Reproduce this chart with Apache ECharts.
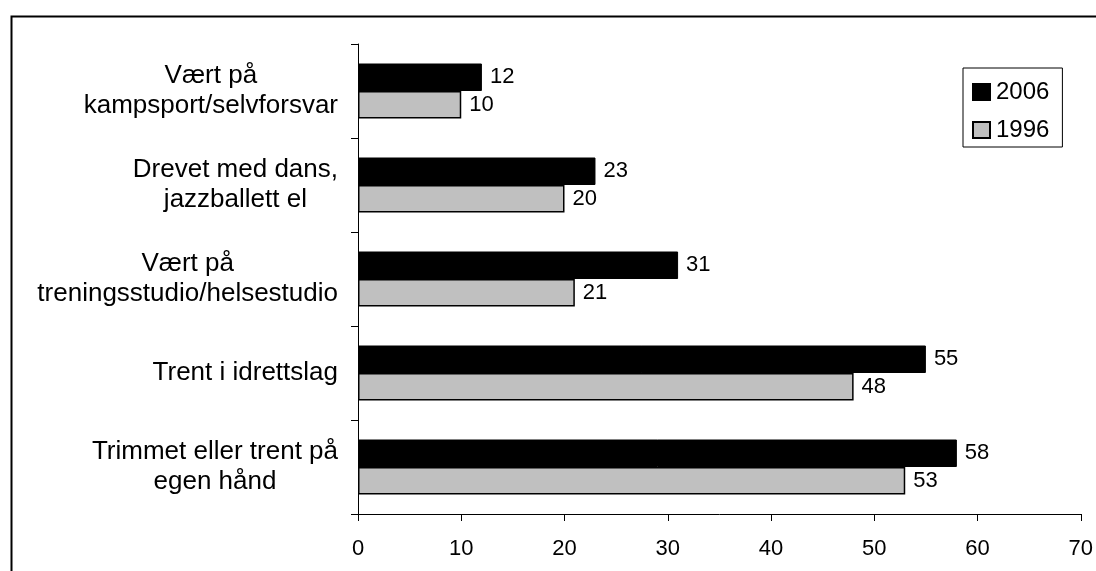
<!DOCTYPE html>
<html>
<head>
<meta charset="utf-8">
<script src="https://cdn.jsdelivr.net/npm/echarts@6/dist/echarts.min.js"></script>
<style>
  html, body { margin: 0; padding: 0; background: #fff; }
  #chart { width: 1096px; height: 571px; }
</style>
</head>
<body>
<div id="chart"></div>
<script>
// Activities, listed top to bottom
var categories = [
  'Vært på\nkampsport/selvforsvar',
  'Drevet med dans,\njazzballett el',
  'Vært på\ntreningsstudio/helsestudio',
  'Trent i idrettslag',
  'Trimmet eller trent på\negen hånd'
];
var seriesNames = ['2006', '1996'];
var values2006 = [12, 23, 31, 55, 58];
var values1996 = [10, 20, 21, 48, 53];
var xTicks = { min: 0, max: 70, interval: 10 };

var FONT = '"Liberation Sans", Arial, Helvetica, sans-serif';

var chart = echarts.init(document.getElementById('chart'), null, { renderer: 'canvas' });

function valueLabel() {
  return {
    show: true,
    position: 'right',
    distance: 8,
    color: '#000',
    fontFamily: FONT,
    fontSize: 22,
    formatter: function (p) { return Math.round(p.value); }
  };
}

chart.setOption({
  backgroundColor: '#fff',
  animation: false,
  textStyle: { fontFamily: FONT, color: '#000' },
  grid: { left: 358, top: 44, right: 14.3, bottom: 57, containLabel: false },
  legend: {
    orient: 'vertical',
    left: 963,
    top: 68,
    data: seriesNames,
    icon: 'rect',
    itemWidth: 17,
    itemHeight: 16,
    itemGap: 14,
    padding: [12, 13, 5, 9],
    borderColor: '#000',
    borderWidth: 1,
    textStyle: { fontFamily: FONT, fontSize: 24, color: '#000', padding: [0, 0, 0, 1] }
  },
  xAxis: {
    type: 'value',
    min: xTicks.min,
    max: xTicks.max,
    interval: xTicks.interval,
    axisLine: { show: true, lineStyle: { color: '#000', width: 1 } },
    axisTick: { show: true, length: 7, lineStyle: { color: '#000' } },
    axisLabel: { fontFamily: FONT, fontSize: 22, color: '#000', margin: 24 },
    splitLine: { show: false }
  },
  yAxis: {
    type: 'category',
    inverse: true,
    data: categories,
    axisLine: { show: true, lineStyle: { color: '#000', width: 1 } },
    axisTick: { show: true, length: 7, alignWithLabel: false, lineStyle: { color: '#000' } },
    axisLabel: {
      margin: 20,
      color: '#000',
      fontFamily: FONT,
      fontSize: 26,
      lineHeight: 30,
      formatter: function (v) {
        return v.split('\n').map(function (s) { return '{c|' + s + '}'; }).join('\n');
      },
      rich: {
        c: { align: 'center', fontFamily: FONT, fontSize: 26, lineHeight: 30, color: '#000' }
      }
    }
  },
  series: [
    {
      name: seriesNames[0],
      type: 'bar',
      data: values2006,
      barGap: '0%',
      barCategoryGap: '41.5%',
      itemStyle: { color: '#000', borderColor: '#000', borderWidth: 1 },
      label: valueLabel()
    },
    {
      name: seriesNames[1],
      type: 'bar',
      data: values1996,
      barGap: '0%',
      barCategoryGap: '41.5%',
      itemStyle: { color: '#c0c0c0', borderColor: '#000', borderWidth: 1.5 },
      label: valueLabel()
    }
  ],
  graphic: [
    {
      type: 'rect',
      left: 9,
      top: 14,
      shape: { x: 0, y: 0, width: 1100, height: 600 },
      style: { fill: 'none', stroke: '#000', lineWidth: 2 },
      silent: true,
      z: 100
    }
  ]
});
</script>
</body>
</html>
